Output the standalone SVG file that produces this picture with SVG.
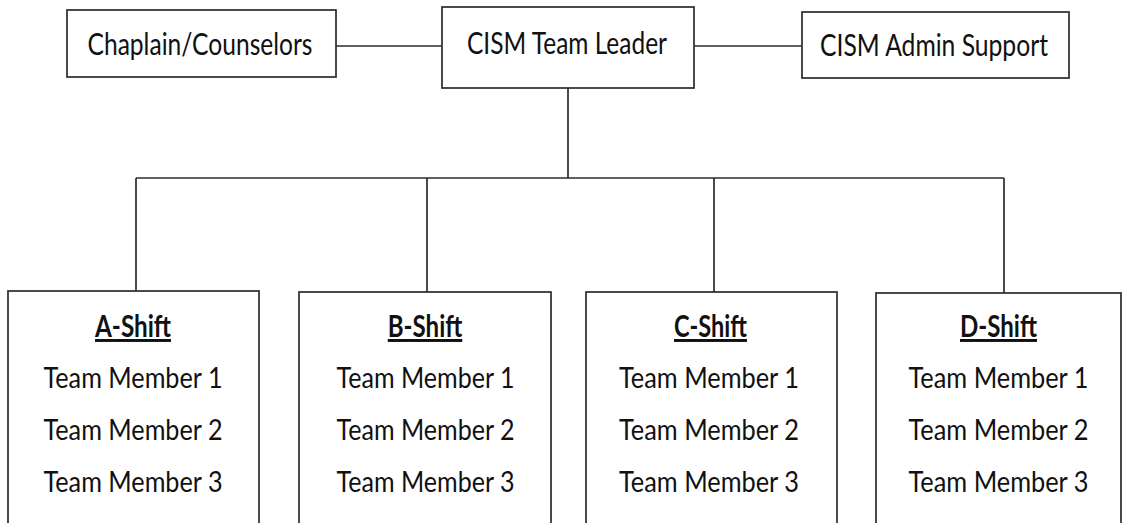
<svg xmlns="http://www.w3.org/2000/svg" width="1123" height="523" viewBox="0 0 1123 523">
  <style>
    .box { fill: #ffffff; stroke: #2b2b2b; stroke-width: 1.7; }
    .wire { fill: none; stroke: #2b2b2b; stroke-width: 1.7; }
    .lbl { font-family: Lato, "Open Sans", "Liberation Sans", sans-serif; font-size: 31px; fill: #111111; text-anchor: middle; }
    .mem { font-family: Lato, "Open Sans", "Liberation Sans", sans-serif; font-size: 29.5px; fill: #111111; text-anchor: middle; }
    .head { font-family: Lato, "Open Sans", "Liberation Sans", sans-serif; font-size: 29.5px; font-weight: bold; fill: #111111; text-decoration: underline; text-anchor: middle; }
  </style>
  <rect width="1123" height="523" fill="#ffffff"/>

  <!-- connectors -->
  <g id="connectors">
    <line class="wire" x1="336" y1="46" x2="442" y2="46"/>
    <line class="wire" x1="694" y1="46" x2="802" y2="46"/>
    <line class="wire" x1="568" y1="88" x2="568" y2="178"/>
    <line class="wire" x1="136" y1="178" x2="1004" y2="178"/>
    <line class="wire" x1="136" y1="178" x2="136" y2="291"/>
    <line class="wire" x1="427" y1="178" x2="427" y2="292"/>
    <line class="wire" x1="714" y1="178" x2="714" y2="292"/>
    <line class="wire" x1="1004" y1="178" x2="1004" y2="293"/>
  </g>

  <!-- top row -->
  <g id="chaplain">
    <rect class="box" x="67" y="10" width="269" height="67"/>
    <text class="lbl" x="200" y="54.5" textLength="225" lengthAdjust="spacingAndGlyphs">Chaplain/Counselors</text>
  </g>
  <g id="leader">
    <rect class="box" x="442" y="7" width="252" height="81"/>
    <text class="lbl" x="567" y="53.5" textLength="200" lengthAdjust="spacingAndGlyphs">CISM Team Leader</text>
  </g>
  <g id="admin">
    <rect class="box" x="802" y="12" width="267" height="66"/>
    <text class="lbl" x="934" y="55.5" textLength="228" lengthAdjust="spacingAndGlyphs">CISM Admin Support</text>
  </g>

  <!-- shift boxes (bottom edges run past the frame) -->
  <g id="shift-a">
    <rect class="box" x="8" y="291" width="251" height="245"/>
    <text class="head" x="133" y="337" textLength="76" lengthAdjust="spacingAndGlyphs">A-Shift</text>
    <text class="mem" x="133" y="388" textLength="179" lengthAdjust="spacingAndGlyphs">Team Member 1</text>
    <text class="mem" x="133" y="439.5" textLength="179" lengthAdjust="spacingAndGlyphs">Team Member 2</text>
    <text class="mem" x="133" y="491.5" textLength="179" lengthAdjust="spacingAndGlyphs">Team Member 3</text>
  </g>
  <g id="shift-b">
    <rect class="box" x="299" y="292" width="252" height="245"/>
    <text class="head" x="425" y="337" textLength="74.5" lengthAdjust="spacingAndGlyphs">B-Shift</text>
    <text class="mem" x="425.5" y="388" textLength="178" lengthAdjust="spacingAndGlyphs">Team Member 1</text>
    <text class="mem" x="425.5" y="439.5" textLength="178" lengthAdjust="spacingAndGlyphs">Team Member 2</text>
    <text class="mem" x="425.5" y="491.5" textLength="178" lengthAdjust="spacingAndGlyphs">Team Member 3</text>
  </g>
  <g id="shift-c">
    <rect class="box" x="586" y="292" width="251" height="245"/>
    <text class="head" x="710.5" y="337" textLength="73" lengthAdjust="spacingAndGlyphs">C-Shift</text>
    <text class="mem" x="709" y="388" textLength="180" lengthAdjust="spacingAndGlyphs">Team Member 1</text>
    <text class="mem" x="709" y="439.5" textLength="180" lengthAdjust="spacingAndGlyphs">Team Member 2</text>
    <text class="mem" x="709" y="491.5" textLength="180" lengthAdjust="spacingAndGlyphs">Team Member 3</text>
  </g>
  <g id="shift-d">
    <rect class="box" x="876" y="293" width="245" height="245"/>
    <text class="head" x="998.5" y="337" textLength="77" lengthAdjust="spacingAndGlyphs">D-Shift</text>
    <text class="mem" x="998.5" y="388" textLength="180" lengthAdjust="spacingAndGlyphs">Team Member 1</text>
    <text class="mem" x="998.5" y="439.5" textLength="180" lengthAdjust="spacingAndGlyphs">Team Member 2</text>
    <text class="mem" x="998.5" y="491.5" textLength="180" lengthAdjust="spacingAndGlyphs">Team Member 3</text>
  </g>
</svg>
